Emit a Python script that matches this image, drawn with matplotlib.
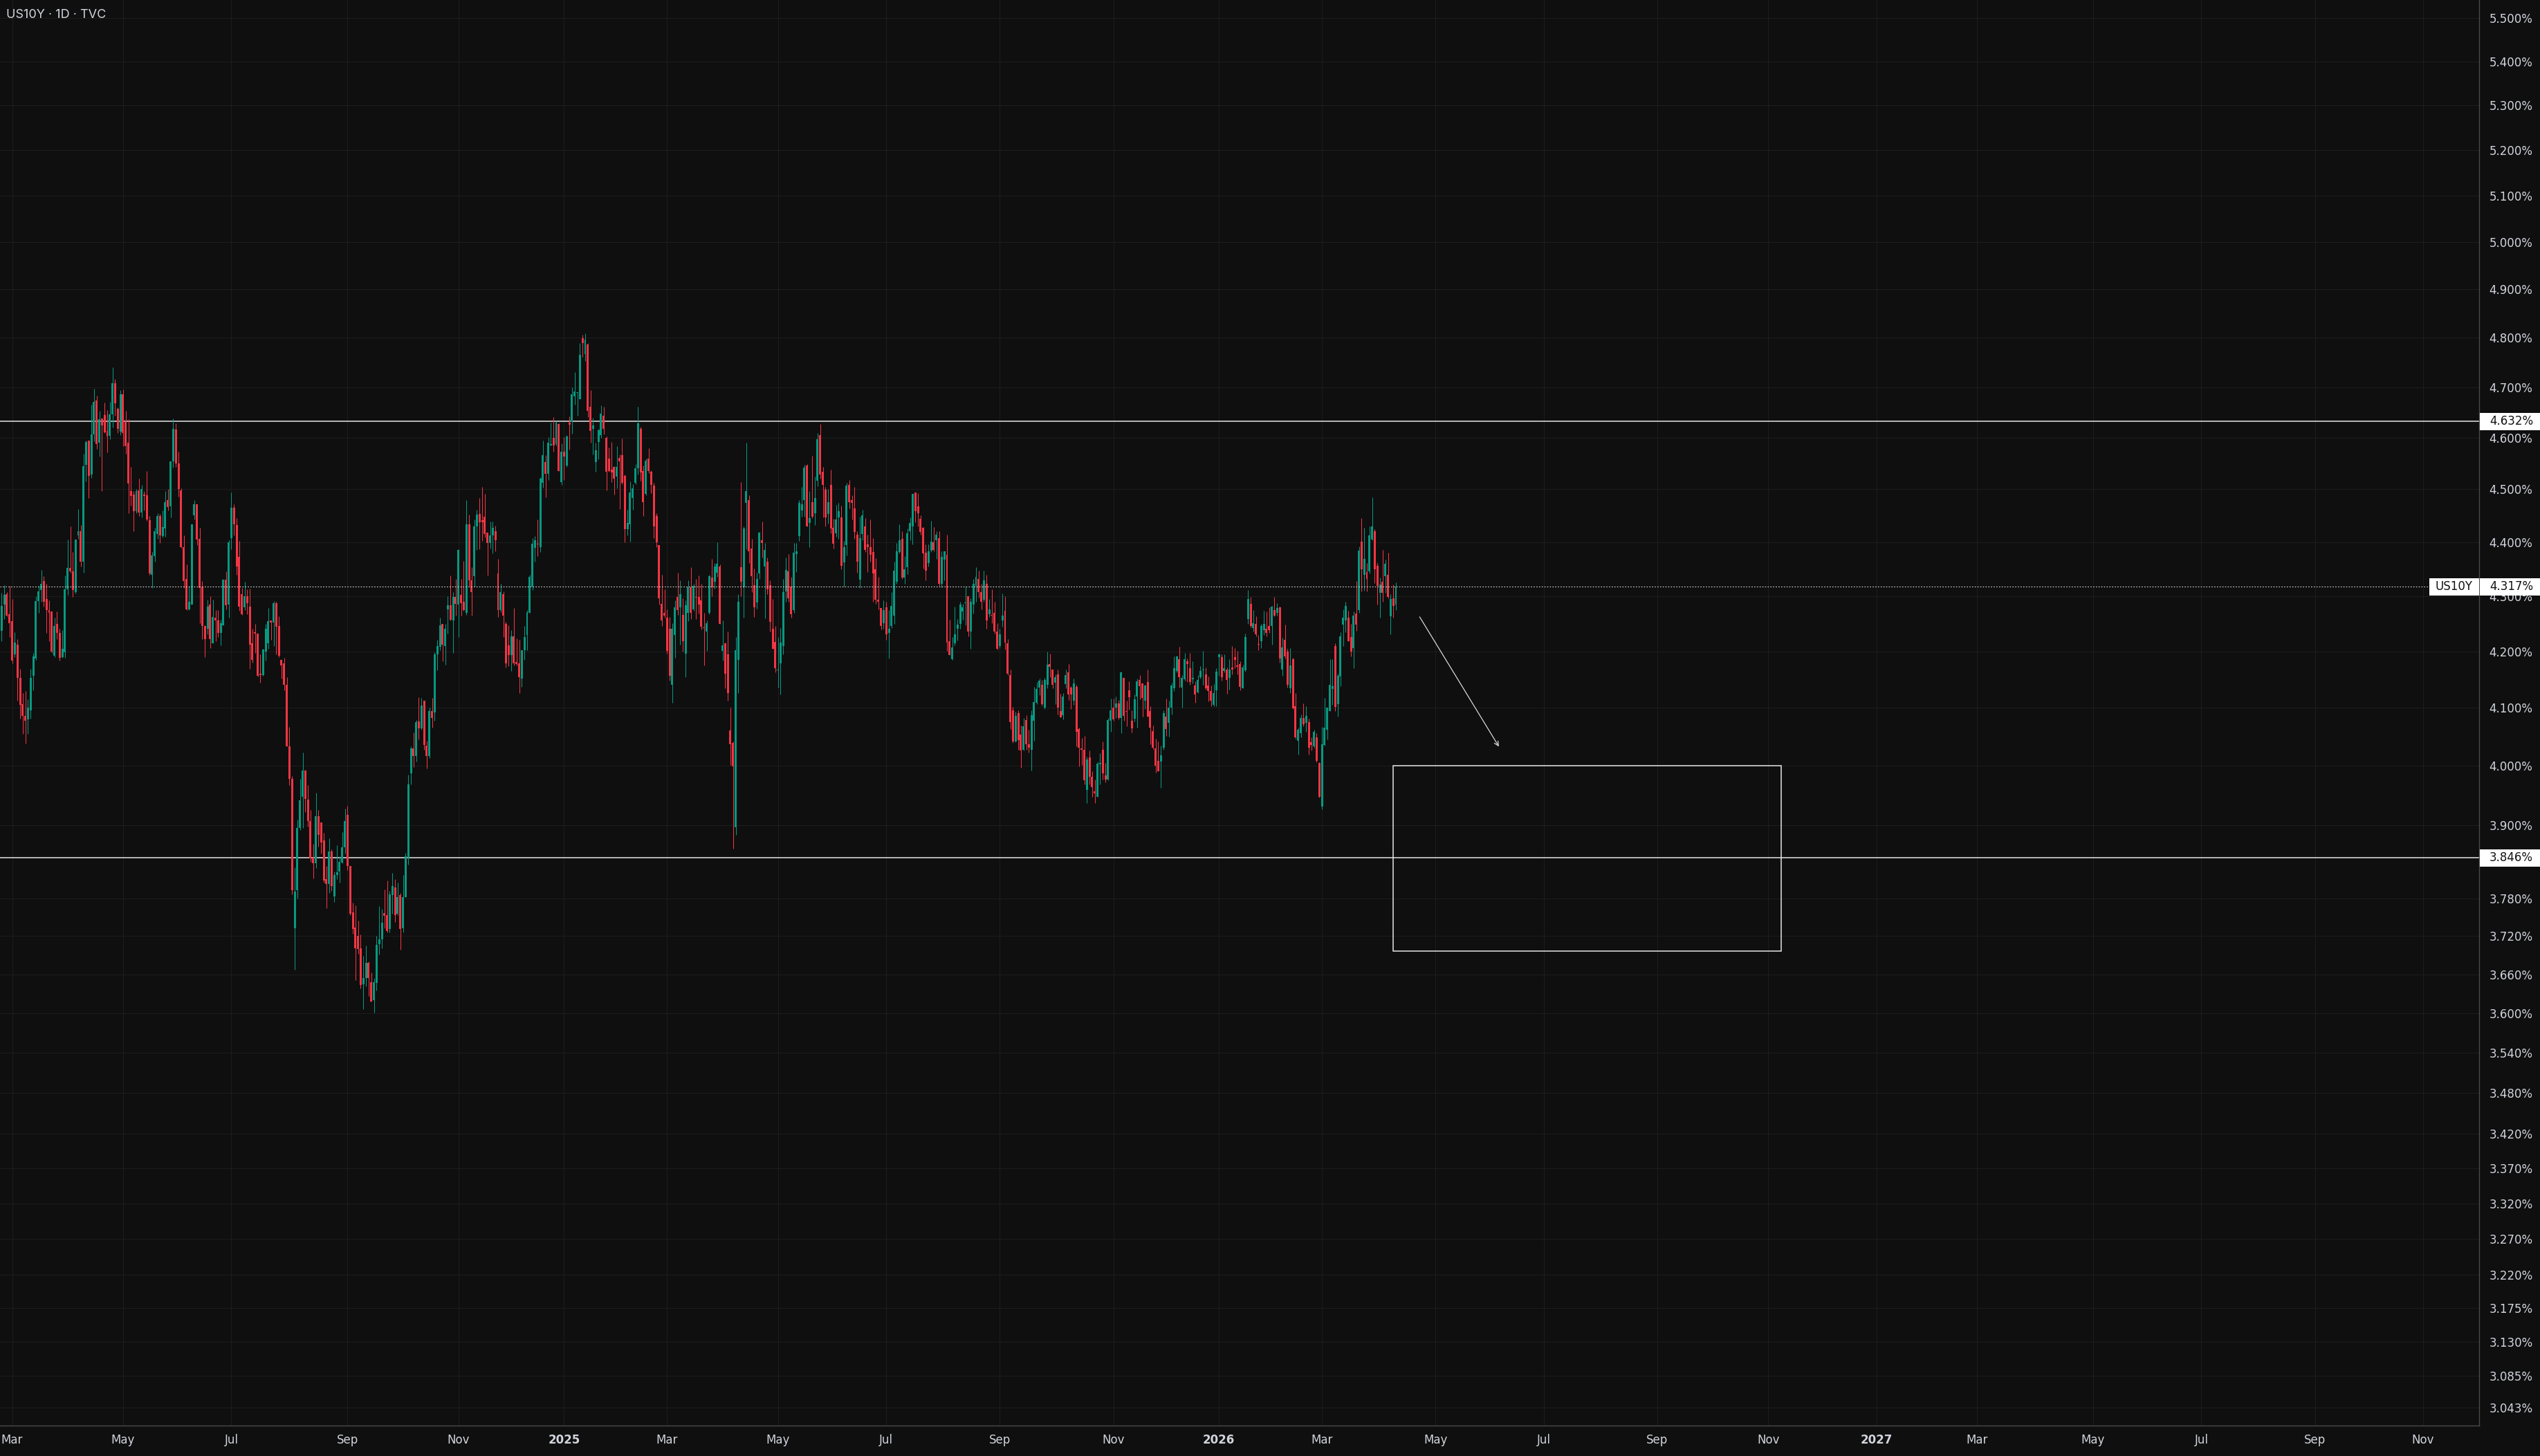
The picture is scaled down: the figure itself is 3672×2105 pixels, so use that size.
import numpy as np
import pandas as pd
import matplotlib
matplotlib.use("Agg")
import matplotlib.pyplot as plt
from matplotlib.transforms import blended_transform_factory
from matplotlib.patches import Rectangle
from matplotlib.ticker import FixedLocator, NullLocator, FuncFormatter

# --- data: US10Y daily candles ---
START = "2024-02-26"
HOLIDAYS = [
    "2024-03-29", "2024-05-27", "2024-06-19", "2024-07-04", "2024-09-02", "2024-10-14",
    "2024-11-11", "2024-11-28", "2024-12-25",
    "2025-01-01", "2025-01-09", "2025-01-20", "2025-02-17", "2025-04-18", "2025-05-26",
    "2025-06-19", "2025-07-04", "2025-09-01", "2025-10-13", "2025-11-11", "2025-11-27", "2025-12-25",
    "2026-01-01", "2026-01-19", "2026-02-16", "2026-04-03", "2026-05-25", "2026-06-19",
    "2026-07-03", "2026-09-07", "2026-10-12", "2026-11-11", "2026-11-26", "2026-12-25",
    "2027-01-01", "2027-01-18", "2027-02-15", "2027-03-26", "2027-05-31", "2027-06-18",
    "2027-07-05", "2027-09-06", "2027-10-11", "2027-11-11", "2027-11-25", "2027-12-24",
]

opens = [
    4.237, 4.285, 4.303, 4.267, 4.254, 4.195, 4.212, 4.153, 4.106, 4.086,
    4.080, 4.096, 4.156, 4.187, 4.291, 4.311, 4.328, 4.295, 4.275, 4.272,
    4.192, 4.249, 4.233, 4.190, 4.198, 4.313, 4.352, 4.345, 4.307, 4.412,
    4.421, 4.364, 4.547, 4.594, 4.528, 4.607, 4.674, 4.590, 4.638, 4.645,
    4.613, 4.604, 4.646, 4.708, 4.657, 4.612, 4.686, 4.632, 4.590, 4.497,
    4.490, 4.459, 4.498, 4.456, 4.490, 4.489, 4.441, 4.339, 4.374, 4.415,
    4.449, 4.411, 4.426, 4.480, 4.467, 4.554, 4.616, 4.550, 4.498, 4.391,
    4.332, 4.276, 4.285, 4.451, 4.471, 4.406, 4.318, 4.246, 4.241, 4.285,
    4.214, 4.261, 4.255, 4.233, 4.247, 4.330, 4.285, 4.408, 4.465, 4.432,
    4.373, 4.303, 4.279, 4.300, 4.281, 4.214, 4.234, 4.232, 4.160, 4.158,
    4.200, 4.214, 4.255, 4.252, 4.287, 4.245, 4.185, 4.178, 4.141, 4.033,
    3.978, 3.733, 3.794, 3.896, 3.947, 3.992, 3.943, 3.907, 3.847, 3.838,
    3.915, 3.905, 3.875, 3.811, 3.804, 3.857, 3.784, 3.818, 3.824, 3.839,
    3.864, 3.918, 3.833, 3.758, 3.734, 3.720, 3.701, 3.645, 3.654, 3.678,
    3.648, 3.620, 3.647, 3.707, 3.715, 3.757, 3.754, 3.731, 3.786, 3.798,
    3.756, 3.786, 3.733, 3.782, 3.847, 3.987, 4.030, 4.017, 4.076, 4.065,
    4.112, 4.035, 4.017, 4.094, 4.092, 4.195, 4.208, 4.249, 4.209, 4.276,
    4.283, 4.255, 4.299, 4.285, 4.302, 4.289, 4.270, 4.433, 4.329, 4.336,
    4.429, 4.453, 4.441, 4.448, 4.418, 4.399, 4.413, 4.420, 4.342, 4.275,
    4.304, 4.249, 4.211, 4.193, 4.227, 4.181, 4.178, 4.151, 4.202, 4.229,
    4.270, 4.318, 4.389, 4.397, 4.391, 4.512, 4.553, 4.530, 4.585, 4.600,
    4.588, 4.627, 4.514, 4.573, 4.546, 4.630, 4.631, 4.682, 4.689, 4.677,
    4.799, 4.767, 4.787, 4.661, 4.618, 4.553, 4.592, 4.605, 4.643, 4.600,
    4.559, 4.538, 4.543, 4.525, 4.561, 4.566, 4.526, 4.425, 4.434, 4.484,
    4.513, 4.541, 4.618, 4.535, 4.491, 4.559, 4.534, 4.507, 4.449, 4.394,
    4.286, 4.270, 4.260, 4.240, 4.140, 4.229, 4.298, 4.279, 4.266, 4.196,
    4.270, 4.316, 4.276, 4.299, 4.299, 4.292, 4.243, 4.235, 4.269, 4.334,
    4.327, 4.343, 4.354, 4.201, 4.215, 4.194, 4.061, 4.039, 3.897, 4.185,
    4.353, 4.316, 4.474, 4.480, 4.388, 4.320, 4.288, 4.342, 4.404, 4.354,
    4.364, 4.320, 4.241, 4.217, 4.166, 4.179, 4.210, 4.309, 4.346, 4.318,
    4.274, 4.378, 4.411, 4.460, 4.479, 4.546, 4.436, 4.476, 4.455, 4.517,
    4.605, 4.534, 4.499, 4.453, 4.509, 4.427, 4.416, 4.446, 4.447, 4.362,
    4.394, 4.509, 4.480, 4.464, 4.414, 4.330, 4.415, 4.430, 4.396, 4.391,
    4.382, 4.350, 4.294, 4.278, 4.251, 4.280, 4.233, 4.246, 4.264, 4.326,
    4.382, 4.406, 4.334, 4.353, 4.420, 4.430, 4.494, 4.467, 4.444, 4.427,
    4.380, 4.361, 4.384, 4.400, 4.403, 4.407, 4.322, 4.368, 4.376, 4.218,
    4.186, 4.215, 4.240, 4.249, 4.272, 4.287, 4.300, 4.236, 4.284, 4.319,
    4.332, 4.307, 4.294, 4.323, 4.267, 4.265, 4.269, 4.236, 4.210, 4.256,
    4.273, 4.215, 4.158, 4.096, 4.042, 4.091, 4.054, 4.028, 4.079, 4.037,
    4.028, 4.077, 4.109, 4.136, 4.141, 4.101, 4.141, 4.177, 4.168, 4.144,
    4.159, 4.094, 4.087, 4.142, 4.162, 4.136, 4.113, 4.137, 4.063, 4.029,
    4.028, 3.959, 4.014, 3.981, 3.957, 3.947, 4.003, 4.028, 3.984, 3.977,
    4.078, 4.101, 4.101, 4.108, 4.083, 4.153, 4.094, 4.131, 4.077, 4.081,
    4.120, 4.149, 4.143, 4.113, 4.146, 4.094, 4.060, 4.030, 4.008, 4.007,
    4.031, 4.085, 4.074, 4.100, 4.135, 4.165, 4.186, 4.136, 4.150, 4.182,
    4.170, 4.150, 4.139, 4.127, 4.154, 4.166, 4.159, 4.139, 4.130, 4.105,
    4.131, 4.190, 4.190, 4.165, 4.168, 4.153, 4.171, 4.190, 4.175, 4.177,
    4.135, 4.166, 4.258, 4.286, 4.242, 4.249, 4.213, 4.218, 4.238, 4.240,
    4.246, 4.245, 4.275, 4.269, 4.280, 4.167, 4.221, 4.200, 4.134, 4.186,
    4.103, 4.043, 4.056, 4.083, 4.074, 4.075, 4.041, 4.033, 4.049, 4.005,
    3.931, 4.036, 4.062, 4.095, 4.133, 4.210, 4.106, 4.155, 4.248, 4.256,
    4.261, 4.226, 4.206, 4.268, 4.274, 4.401, 4.339, 4.344, 4.345, 4.405,
    4.421, 4.356, 4.306, 4.327, 4.337, 4.339, 4.263, 4.296, 4.284,
]

highs = [
    4.306, 4.320, 4.307, 4.319, 4.295, 4.234, 4.222, 4.169, 4.126, 4.129,
    4.115, 4.169, 4.197, 4.300, 4.319, 4.348, 4.336, 4.323, 4.292, 4.272,
    4.261, 4.272, 4.241, 4.238, 4.338, 4.405, 4.429, 4.381, 4.405, 4.462,
    4.432, 4.569, 4.594, 4.594, 4.665, 4.697, 4.683, 4.653, 4.638, 4.669,
    4.654, 4.671, 4.740, 4.716, 4.660, 4.695, 4.696, 4.653, 4.636, 4.543,
    4.496, 4.500, 4.521, 4.509, 4.496, 4.535, 4.449, 4.382, 4.427, 4.455,
    4.453, 4.460, 4.497, 4.501, 4.554, 4.638, 4.628, 4.573, 4.502, 4.413,
    4.359, 4.319, 4.434, 4.479, 4.471, 4.427, 4.328, 4.247, 4.293, 4.300,
    4.294, 4.275, 4.274, 4.257, 4.330, 4.346, 4.403, 4.494, 4.471, 4.445,
    4.402, 4.315, 4.327, 4.312, 4.314, 4.241, 4.249, 4.232, 4.195, 4.205,
    4.249, 4.278, 4.255, 4.291, 4.289, 4.263, 4.185, 4.188, 4.154, 4.067,
    3.983, 3.831, 3.909, 3.978, 4.023, 3.993, 3.967, 3.926, 3.869, 3.954,
    3.926, 3.905, 3.887, 3.833, 3.878, 3.860, 3.824, 3.867, 3.849, 3.889,
    3.928, 3.933, 3.833, 3.774, 3.769, 3.745, 3.723, 3.689, 3.705, 3.680,
    3.663, 3.654, 3.720, 3.768, 3.764, 3.795, 3.809, 3.792, 3.822, 3.811,
    3.806, 3.789, 3.818, 3.854, 3.985, 4.033, 4.057, 4.079, 4.119, 4.118,
    4.112, 4.043, 4.100, 4.118, 4.198, 4.220, 4.260, 4.249, 4.249, 4.300,
    4.338, 4.307, 4.331, 4.387, 4.332, 4.365, 4.479, 4.452, 4.353, 4.443,
    4.461, 4.483, 4.505, 4.492, 4.418, 4.439, 4.439, 4.431, 4.369, 4.322,
    4.308, 4.253, 4.247, 4.238, 4.278, 4.223, 4.220, 4.202, 4.246, 4.275,
    4.339, 4.407, 4.411, 4.443, 4.523, 4.595, 4.566, 4.601, 4.630, 4.640,
    4.632, 4.629, 4.589, 4.601, 4.605, 4.642, 4.700, 4.730, 4.690, 4.789,
    4.806, 4.809, 4.789, 4.695, 4.639, 4.591, 4.618, 4.664, 4.661, 4.603,
    4.581, 4.592, 4.545, 4.583, 4.567, 4.599, 4.529, 4.461, 4.515, 4.510,
    4.548, 4.661, 4.621, 4.546, 4.560, 4.579, 4.536, 4.512, 4.455, 4.395,
    4.339, 4.313, 4.276, 4.262, 4.251, 4.292, 4.343, 4.329, 4.296, 4.292,
    4.329, 4.353, 4.323, 4.331, 4.338, 4.322, 4.270, 4.255, 4.339, 4.369,
    4.361, 4.400, 4.358, 4.256, 4.216, 4.236, 4.100, 4.042, 4.225, 4.303,
    4.514, 4.430, 4.591, 4.489, 4.406, 4.351, 4.343, 4.419, 4.439, 4.399,
    4.371, 4.329, 4.295, 4.246, 4.226, 4.242, 4.332, 4.371, 4.378, 4.335,
    4.398, 4.398, 4.480, 4.505, 4.547, 4.549, 4.497, 4.565, 4.524, 4.610,
    4.627, 4.543, 4.505, 4.501, 4.538, 4.444, 4.470, 4.474, 4.469, 4.402,
    4.513, 4.518, 4.489, 4.505, 4.420, 4.448, 4.461, 4.445, 4.414, 4.442,
    4.407, 4.370, 4.335, 4.278, 4.292, 4.289, 4.275, 4.307, 4.364, 4.399,
    4.434, 4.421, 4.374, 4.426, 4.447, 4.492, 4.494, 4.493, 4.451, 4.428,
    4.396, 4.396, 4.440, 4.428, 4.420, 4.420, 4.383, 4.383, 4.414, 4.257,
    4.226, 4.281, 4.258, 4.289, 4.286, 4.317, 4.300, 4.296, 4.332, 4.353,
    4.347, 4.323, 4.347, 4.339, 4.295, 4.312, 4.289, 4.250, 4.241, 4.305,
    4.300, 4.222, 4.168, 4.102, 4.093, 4.096, 4.069, 4.083, 4.087, 4.062,
    4.096, 4.137, 4.145, 4.152, 4.149, 4.153, 4.199, 4.196, 4.168, 4.159,
    4.168, 4.125, 4.126, 4.168, 4.177, 4.138, 4.152, 4.140, 4.066, 4.048,
    4.051, 4.016, 4.026, 3.991, 3.977, 4.007, 4.021, 4.042, 4.005, 4.082,
    4.116, 4.116, 4.120, 4.114, 4.164, 4.153, 4.112, 4.147, 4.096, 4.123,
    4.152, 4.158, 4.143, 4.141, 4.167, 4.103, 4.069, 4.047, 4.042, 4.035,
    4.096, 4.116, 4.112, 4.144, 4.191, 4.192, 4.208, 4.158, 4.197, 4.187,
    4.197, 4.182, 4.147, 4.158, 4.174, 4.201, 4.171, 4.155, 4.139, 4.142,
    4.170, 4.196, 4.195, 4.195, 4.171, 4.186, 4.210, 4.206, 4.201, 4.182,
    4.176, 4.232, 4.311, 4.299, 4.275, 4.263, 4.229, 4.249, 4.273, 4.272,
    4.279, 4.282, 4.299, 4.287, 4.281, 4.224, 4.248, 4.204, 4.206, 4.189,
    4.126, 4.066, 4.088, 4.108, 4.103, 4.081, 4.049, 4.062, 4.056, 4.006,
    4.067, 4.117, 4.100, 4.186, 4.186, 4.215, 4.160, 4.234, 4.276, 4.290,
    4.273, 4.249, 4.272, 4.328, 4.392, 4.445, 4.427, 4.361, 4.429, 4.485,
    4.425, 4.361, 4.334, 4.386, 4.368, 4.380, 4.303, 4.321, 4.325,
]

lows = [
    4.218, 4.258, 4.263, 4.225, 4.178, 4.190, 4.112, 4.081, 4.055, 4.038,
    4.055, 4.081, 4.131, 4.185, 4.270, 4.290, 4.281, 4.233, 4.218, 4.197,
    4.190, 4.222, 4.184, 4.189, 4.189, 4.302, 4.343, 4.298, 4.305, 4.406,
    4.354, 4.343, 4.515, 4.483, 4.522, 4.593, 4.578, 4.564, 4.497, 4.609,
    4.571, 4.597, 4.620, 4.643, 4.610, 4.605, 4.584, 4.569, 4.455, 4.469,
    4.421, 4.454, 4.449, 4.446, 4.460, 4.440, 4.339, 4.315, 4.363, 4.406,
    4.398, 4.409, 4.410, 4.460, 4.446, 4.542, 4.543, 4.486, 4.389, 4.315,
    4.275, 4.275, 4.284, 4.443, 4.394, 4.250, 4.222, 4.190, 4.230, 4.206,
    4.214, 4.218, 4.226, 4.211, 4.247, 4.276, 4.261, 4.387, 4.413, 4.339,
    4.273, 4.266, 4.274, 4.267, 4.169, 4.180, 4.197, 4.155, 4.144, 4.156,
    4.184, 4.205, 4.220, 4.210, 4.195, 4.190, 4.152, 4.131, 4.033, 3.967,
    3.787, 3.667, 3.780, 3.892, 3.896, 3.922, 3.898, 3.840, 3.813, 3.829,
    3.865, 3.853, 3.806, 3.765, 3.789, 3.792, 3.775, 3.811, 3.806, 3.838,
    3.853, 3.826, 3.754, 3.724, 3.651, 3.692, 3.638, 3.606, 3.641, 3.626,
    3.618, 3.601, 3.635, 3.691, 3.701, 3.733, 3.726, 3.726, 3.756, 3.743,
    3.754, 3.699, 3.726, 3.782, 3.835, 3.968, 3.998, 4.007, 4.045, 4.062,
    4.028, 3.996, 4.013, 4.066, 4.077, 4.166, 4.202, 4.182, 4.176, 4.232,
    4.255, 4.197, 4.264, 4.225, 4.265, 4.273, 4.266, 4.317, 4.265, 4.317,
    4.385, 4.387, 4.402, 4.409, 4.338, 4.388, 4.379, 4.383, 4.262, 4.271,
    4.226, 4.171, 4.174, 4.165, 4.175, 4.175, 4.126, 4.137, 4.185, 4.202,
    4.269, 4.311, 4.364, 4.374, 4.381, 4.503, 4.485, 4.518, 4.585, 4.573,
    4.585, 4.535, 4.508, 4.518, 4.543, 4.577, 4.608, 4.666, 4.643, 4.677,
    4.761, 4.753, 4.640, 4.591, 4.567, 4.534, 4.558, 4.600, 4.607, 4.498,
    4.534, 4.514, 4.490, 4.502, 4.462, 4.510, 4.400, 4.413, 4.401, 4.461,
    4.510, 4.528, 4.517, 4.449, 4.489, 4.531, 4.493, 4.407, 4.391, 4.285,
    4.246, 4.260, 4.196, 4.148, 4.109, 4.188, 4.266, 4.212, 4.200, 4.154,
    4.254, 4.258, 4.273, 4.258, 4.268, 4.239, 4.175, 4.201, 4.267, 4.300,
    4.314, 4.335, 4.249, 4.184, 4.134, 4.112, 4.002, 3.861, 3.884, 4.126,
    4.300, 4.260, 4.387, 4.361, 4.307, 4.262, 4.277, 4.332, 4.371, 4.259,
    4.303, 4.235, 4.204, 4.163, 4.136, 4.124, 4.195, 4.289, 4.289, 4.261,
    4.269, 4.344, 4.402, 4.448, 4.448, 4.430, 4.391, 4.445, 4.432, 4.506,
    4.520, 4.447, 4.429, 4.435, 4.417, 4.388, 4.410, 4.406, 4.349, 4.318,
    4.375, 4.464, 4.442, 4.406, 4.343, 4.315, 4.403, 4.382, 4.344, 4.364,
    4.289, 4.286, 4.276, 4.239, 4.240, 4.221, 4.187, 4.242, 4.249, 4.322,
    4.379, 4.332, 4.322, 4.340, 4.404, 4.396, 4.437, 4.430, 4.414, 4.351,
    4.329, 4.354, 4.382, 4.383, 4.369, 4.319, 4.316, 4.329, 4.201, 4.193,
    4.185, 4.211, 4.219, 4.241, 4.257, 4.247, 4.227, 4.204, 4.268, 4.289,
    4.297, 4.276, 4.289, 4.241, 4.262, 4.251, 4.232, 4.203, 4.206, 4.244,
    4.203, 4.158, 4.063, 4.039, 4.041, 4.027, 3.997, 4.026, 4.027, 4.023,
    3.992, 4.043, 4.106, 4.122, 4.104, 4.098, 4.135, 4.154, 4.135, 4.107,
    4.089, 4.084, 4.080, 4.135, 4.114, 4.098, 4.105, 4.033, 3.999, 4.002,
    3.968, 3.937, 3.969, 3.948, 3.937, 3.947, 3.968, 3.977, 3.972, 3.975,
    4.059, 4.078, 4.082, 4.080, 4.056, 4.078, 4.068, 4.097, 4.057, 4.076,
    4.066, 4.115, 4.085, 4.098, 4.085, 4.037, 4.029, 3.989, 3.991, 3.963,
    4.028, 4.051, 4.050, 4.089, 4.130, 4.162, 4.136, 4.100, 4.148, 4.146,
    4.141, 4.143, 4.109, 4.126, 4.152, 4.140, 4.132, 4.111, 4.103, 4.103,
    4.103, 4.157, 4.148, 4.162, 4.125, 4.132, 4.159, 4.170, 4.159, 4.131,
    4.134, 4.164, 4.249, 4.243, 4.236, 4.227, 4.202, 4.206, 4.229, 4.227,
    4.233, 4.212, 4.263, 4.264, 4.180, 4.157, 4.187, 4.136, 4.126, 4.098,
    4.047, 4.019, 4.049, 4.068, 4.059, 4.019, 4.026, 4.031, 4.006, 3.946,
    3.927, 4.034, 4.045, 4.094, 4.105, 4.094, 4.085, 4.138, 4.210, 4.234,
    4.218, 4.191, 4.170, 4.237, 4.270, 4.308, 4.310, 4.308, 4.342, 4.403,
    4.324, 4.285, 4.261, 4.289, 4.306, 4.296, 4.231, 4.261, 4.275,
]

closes = [
    4.282, 4.302, 4.265, 4.250, 4.183, 4.216, 4.153, 4.105, 4.086, 4.077,
    4.100, 4.153, 4.191, 4.291, 4.309, 4.323, 4.290, 4.275, 4.270, 4.199,
    4.246, 4.233, 4.189, 4.205, 4.313, 4.352, 4.346, 4.311, 4.405, 4.421,
    4.364, 4.545, 4.592, 4.526, 4.607, 4.671, 4.588, 4.636, 4.624, 4.611,
    4.602, 4.646, 4.708, 4.668, 4.617, 4.686, 4.610, 4.584, 4.511, 4.487,
    4.458, 4.496, 4.456, 4.500, 4.488, 4.443, 4.342, 4.375, 4.421, 4.449,
    4.412, 4.428, 4.476, 4.466, 4.554, 4.617, 4.550, 4.500, 4.391, 4.328,
    4.276, 4.289, 4.434, 4.471, 4.405, 4.315, 4.246, 4.222, 4.281, 4.222,
    4.262, 4.256, 4.233, 4.250, 4.330, 4.283, 4.400, 4.465, 4.433, 4.354,
    4.281, 4.267, 4.300, 4.287, 4.212, 4.185, 4.232, 4.157, 4.158, 4.203,
    4.241, 4.254, 4.252, 4.287, 4.244, 4.192, 4.175, 4.141, 4.033, 3.978,
    3.794, 3.791, 3.896, 3.942, 3.992, 3.944, 3.907, 3.845, 3.838, 3.915,
    3.884, 3.871, 3.809, 3.804, 3.857, 3.800, 3.818, 3.823, 3.840, 3.864,
    3.907, 3.833, 3.756, 3.731, 3.701, 3.700, 3.643, 3.654, 3.678, 3.654,
    3.618, 3.648, 3.706, 3.715, 3.741, 3.752, 3.728, 3.787, 3.800, 3.754,
    3.783, 3.731, 3.783, 3.849, 3.969, 4.030, 4.017, 4.075, 4.065, 4.104,
    4.036, 4.017, 4.094, 4.083, 4.195, 4.209, 4.247, 4.212, 4.241, 4.283,
    4.257, 4.299, 4.286, 4.386, 4.287, 4.274, 4.434, 4.329, 4.307, 4.429,
    4.452, 4.438, 4.437, 4.415, 4.398, 4.413, 4.427, 4.403, 4.275, 4.307,
    4.264, 4.178, 4.193, 4.227, 4.178, 4.177, 4.154, 4.202, 4.226, 4.271,
    4.335, 4.397, 4.403, 4.396, 4.521, 4.566, 4.530, 4.590, 4.587, 4.585,
    4.630, 4.535, 4.573, 4.564, 4.603, 4.625, 4.686, 4.692, 4.690, 4.765,
    4.790, 4.796, 4.653, 4.614, 4.624, 4.575, 4.615, 4.647, 4.617, 4.534,
    4.535, 4.533, 4.521, 4.543, 4.554, 4.512, 4.424, 4.436, 4.494, 4.502,
    4.540, 4.628, 4.533, 4.476, 4.555, 4.535, 4.509, 4.429, 4.400, 4.296,
    4.256, 4.264, 4.201, 4.157, 4.241, 4.280, 4.275, 4.304, 4.218, 4.283,
    4.316, 4.269, 4.319, 4.297, 4.284, 4.244, 4.242, 4.250, 4.337, 4.316,
    4.354, 4.360, 4.249, 4.211, 4.160, 4.126, 4.037, 3.999, 4.202, 4.289,
    4.326, 4.426, 4.497, 4.383, 4.337, 4.279, 4.332, 4.418, 4.399, 4.385,
    4.313, 4.253, 4.205, 4.170, 4.168, 4.216, 4.307, 4.348, 4.296, 4.267,
    4.380, 4.383, 4.474, 4.471, 4.542, 4.430, 4.445, 4.448, 4.484, 4.597,
    4.528, 4.508, 4.447, 4.475, 4.426, 4.397, 4.442, 4.458, 4.356, 4.391,
    4.507, 4.475, 4.474, 4.419, 4.363, 4.408, 4.450, 4.386, 4.391, 4.376,
    4.342, 4.293, 4.289, 4.245, 4.275, 4.230, 4.241, 4.282, 4.347, 4.383,
    4.403, 4.334, 4.350, 4.417, 4.436, 4.491, 4.458, 4.455, 4.419, 4.379,
    4.347, 4.383, 4.401, 4.386, 4.414, 4.322, 4.372, 4.383, 4.216, 4.193,
    4.207, 4.231, 4.248, 4.285, 4.279, 4.288, 4.236, 4.289, 4.322, 4.335,
    4.307, 4.289, 4.329, 4.255, 4.276, 4.264, 4.236, 4.204, 4.231, 4.265,
    4.216, 4.160, 4.075, 4.042, 4.086, 4.044, 4.026, 4.068, 4.037, 4.031,
    4.087, 4.110, 4.133, 4.148, 4.106, 4.149, 4.176, 4.173, 4.141, 4.154,
    4.100, 4.084, 4.120, 4.158, 4.124, 4.123, 4.143, 4.059, 4.031, 4.028,
    3.975, 4.011, 3.982, 3.964, 3.953, 4.004, 4.004, 3.987, 3.977, 4.079,
    4.096, 4.080, 4.108, 4.083, 4.162, 4.086, 4.093, 4.119, 4.065, 4.115,
    4.147, 4.138, 4.117, 4.139, 4.085, 4.066, 4.031, 4.000, 3.991, 4.018,
    4.091, 4.063, 4.100, 4.139, 4.170, 4.191, 4.154, 4.153, 4.186, 4.177,
    4.146, 4.153, 4.124, 4.149, 4.165, 4.167, 4.134, 4.130, 4.112, 4.126,
    4.164, 4.195, 4.154, 4.170, 4.149, 4.167, 4.168, 4.185, 4.173, 4.137,
    4.171, 4.226, 4.295, 4.245, 4.251, 4.231, 4.212, 4.245, 4.249, 4.233,
    4.238, 4.281, 4.265, 4.278, 4.187, 4.207, 4.191, 4.140, 4.175, 4.099,
    4.049, 4.062, 4.083, 4.071, 4.086, 4.031, 4.036, 4.059, 4.009, 3.948,
    4.037, 4.066, 4.100, 4.140, 4.138, 4.102, 4.156, 4.227, 4.261, 4.282,
    4.218, 4.200, 4.265, 4.248, 4.384, 4.350, 4.369, 4.332, 4.413, 4.429,
    4.350, 4.319, 4.321, 4.306, 4.360, 4.299, 4.295, 4.282, 4.317,
]

last_price = 4.317
levels = [4.632, 3.846]
y_ticks = [5.5, 5.4, 5.3, 5.2, 5.1, 5.0, 4.9, 4.8, 4.7, 4.6, 4.5, 4.4, 4.3, 4.2, 4.1, 4.0,
           3.9, 3.78, 3.72, 3.66, 3.6, 3.54, 3.48, 3.42, 3.37, 3.32, 3.27, 3.22,
           3.175, 3.13, 3.085, 3.043]

# target zone and arrow drawn on the chart
zone_dates = ("2026-04-09", "2026-11-09")
zone_prices = (3.697, 4.0)
arrow_from = ("2026-04-23", 4.262)
arrow_to = ("2026-06-05", 4.033)

BG = "#0f0f0f"
GRID = "#1d1d1d"
UP = "#089981"
DOWN = "#f23645"
TXT = "#d1d4dc"

n = min(len(opens), len(highs), len(lows), len(closes))
o = np.array(opens[:n])
h = np.array(highs[:n])
l = np.array(lows[:n])
c = np.array(closes[:n])
x = np.arange(n)

cal = pd.bdate_range(START, periods=960, freq="C", holidays=HOLIDAYS)
pos = pd.Series(np.arange(len(cal)), index=cal)

def bar_of(d):
    return pos.index.get_indexer([pd.Timestamp(d)], method="bfill")[0]

XMIN, XMAX = -0.6, 938.2

W, H = 3673, 2105
AX_W, AX_H = 3584, 2061
fig = plt.figure(figsize=(W / 100, H / 100), dpi=100, facecolor=BG)
ax = fig.add_axes([0, 44 / H, AX_W / W, AX_H / H], facecolor=BG)

ax.set_yscale("log")
ax.set_ylim(3.020, 5.543)
ax.set_xlim(XMIN, XMAX)

# x ticks: first trading day of every other month, years at January
first = cal.to_series().groupby([cal.year, cal.month]).first()
xt, xl, bold = [], [], []
for (yr, mo), d in first.items():
    p = pos[d]
    if p < 0 or p > XMAX or mo % 2 == 0:
        continue
    xt.append(p)
    if mo == 1:
        xl.append(str(yr))
        bold.append(True)
    else:
        xl.append(d.strftime("%b"))
        bold.append(False)
ax.set_xticks(xt)
ax.set_xticklabels(xl)
for t, b in zip(ax.get_xticklabels(), bold):
    if b:
        t.set_fontweight("bold")
        t.set_color("white")

ax.yaxis.set_major_locator(FixedLocator(y_ticks))
ax.yaxis.set_minor_locator(NullLocator())
ax.yaxis.set_major_formatter(FuncFormatter(lambda v, _: f"{v:.3f}%"))
ax.yaxis.set_minor_formatter(FuncFormatter(lambda v, _: ""))
ax.yaxis.tick_right()

ax.tick_params(axis="y", which="both", length=0, pad=10.5, labelsize=12,
               labelcolor=TXT)
ax.tick_params(axis="x", length=0, pad=8.5, labelsize=12, labelcolor=TXT)
for t in ax.get_xticklabels() + ax.get_yticklabels():
    t.set_family("DejaVu Sans")

ax.grid(True, color=GRID, linewidth=0.75, zorder=0)
ax.set_axisbelow(True)
for s in ("left", "top"):
    ax.spines[s].set_visible(False)
for s in ("right", "bottom"):
    ax.spines[s].set_color("#4a4a4a")
    ax.spines[s].set_linewidth(1.0)

# candles
col = np.where(c >= o, UP, DOWN)
ax.vlines(x, l, h, colors=col, linewidth=0.75, zorder=3)
body_lo = np.minimum(o, c)
body_h = np.maximum(np.abs(c - o), 0.0015)
ax.bar(x, body_h, bottom=body_lo, width=0.78, color=col, linewidth=0, zorder=3)

# horizontal levels
for lv in levels:
    ax.axhline(lv, color="#e6e6e6", linewidth=1.1, zorder=2)
ax.axhline(last_price, color="#d9d9d9", linewidth=0.8, linestyle=(0, (1.5, 2.0)),
           zorder=4)

# zone and arrow
x0, x1 = bar_of(zone_dates[0]), bar_of(zone_dates[1])
ax.add_patch(Rectangle((x0, zone_prices[0]), x1 - x0, zone_prices[1] - zone_prices[0],
                       fill=False, edgecolor="#e6e6e6", linewidth=1.1, zorder=4))
ax.annotate("", xy=(bar_of(arrow_to[0]), arrow_to[1]),
            xytext=(bar_of(arrow_from[0]), arrow_from[1]),
            arrowprops=dict(arrowstyle="->", color="#d9d9d9", lw=0.9,
                            mutation_scale=11, shrinkA=0, shrinkB=0), zorder=4)

# price labels on the scale: white boxes filling the scale width
tr = blended_transform_factory(ax.transAxes, ax.transData)
box_w = 87 / AX_W
box_h = 25 / AX_H
for v in levels + [last_price]:
    y_ax = ax.transAxes.inverted().transform(ax.transData.transform((0, v)))[1]
    ax.add_patch(Rectangle((1.0 + 1.5 / AX_W, y_ax - box_h / 2), box_w, box_h,
                           transform=ax.transAxes, facecolor="white", edgecolor="none",
                           clip_on=False, zorder=9))
    ax.text(1.0 + 15 / AX_W, v, f"{v:.3f}%", transform=tr, ha="left", va="center",
            fontsize=12, family="DejaVu Sans", color="#131313", clip_on=False,
            zorder=10)

y_last = ax.transAxes.inverted().transform(ax.transData.transform((0, last_price)))[1]
ax.add_patch(Rectangle((1.0 - 72 / AX_W, y_last - box_h / 2), 72 / AX_W, box_h,
                       transform=ax.transAxes, facecolor="white", edgecolor="none",
                       clip_on=False, zorder=9))
ax.text(1.0 - 36 / AX_W, last_price, "US10Y", transform=tr, ha="center", va="center",
        fontsize=12, family="DejaVu Sans", color="#131313", clip_on=False, zorder=10)

fig.text(9 / W, 1 - 22 / H, "US10Y · 1D · TVC", ha="left", va="center",
         fontsize=13, color=TXT, family=["Inter", "DejaVu Sans"])

fig.savefig("out.png", dpi=100, facecolor=BG)
